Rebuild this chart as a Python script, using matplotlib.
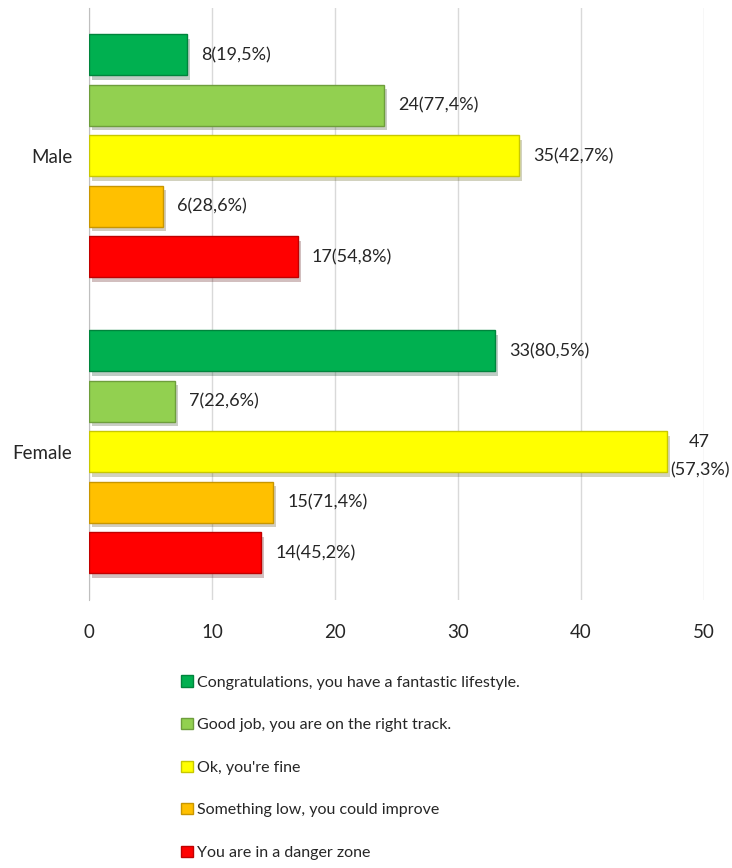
import matplotlib
matplotlib.use("Agg")
import matplotlib.pyplot as plt
import matplotlib.patheffects as pe

categories = ["Male", "Female"]
levels = [
    "Congratulations, you have a fantastic lifestyle.",
    "Good job, you are on the right track.",
    "Ok, you're fine",
    "Something low, you could improve",
    "You are in a danger zone",
]
male_counts = [8, 24, 35, 6, 17]
female_counts = [33, 7, 47, 15, 14]
male_pct = ["19,5", "77,4", "42,7", "28,6", "54,8"]
female_pct = ["80,5", "22,6", "57,3", "71,4", "45,2"]
xticks = [0, 10, 20, 30, 40, 50]

colours = ["#00B050", "#92D050", "#FFFF00", "#FFC000", "#FF0000"]
edges = ["#00843C", "#6E9E3C", "#C8C800", "#C89600", "#C00000"]

plt.rcParams["font.family"] = ["Lato", "DejaVu Sans"]

fig = plt.figure(figsize=(7.32, 8.68), dpi=100)
ax = fig.add_axes([0.1216, 0.3088, 0.8401, 0.682])

counts = [male_counts, female_counts]
pcts = [male_pct, female_pct]
step = 0.1706
height = 0.1385
shadow = [pe.SimplePatchShadow(offset=(2, -3), alpha=0.25), pe.Normal()]

for c in range(len(categories)):
    for i in range(len(levels)):
        y = c + (i - 2) * step
        val = counts[c][i]
        ax.barh(y, val, height=height, color=colours[i], edgecolor=edges[i],
                linewidth=1.0, path_effects=shadow, zorder=3)
        if val >= 45:
            # label wrapped onto two lines, as it would overflow the plot
            txt = f"{val}\n({pcts[c][i]}%)"
            ax.annotate(txt, xy=(val, y), xytext=(2, -3), textcoords="offset points",
                        ha="left", va="center", multialignment="center", linespacing=1.9,
                        fontsize=13, color="#262626", zorder=4, annotation_clip=False)
        else:
            txt = f"{val}({pcts[c][i]}%)"
            ax.annotate(txt, xy=(val, y), xytext=(10, 0), textcoords="offset points",
                        ha="left", va="center", fontsize=13, color="#262626", zorder=4)

ax.set_ylim(1.5, -0.5)
ax.set_xlim(0, 50)
ax.set_yticks(range(len(categories)))
ax.set_yticklabels(categories)
ax.set_xticks(xticks)
ax.tick_params(axis="x", length=0, pad=17, labelsize=13.5, labelcolor="#262626")
ax.tick_params(axis="y", length=0, pad=12, labelsize=13.5, labelcolor="#262626")
ax.grid(True, axis="x", color="#D9D9D9", linewidth=1.0, zorder=0)
for side in ("top", "right", "bottom"):
    ax.spines[side].set_visible(False)
ax.spines["left"].set_color("#BFBFBF")

handles = [plt.Rectangle((0, 0), 1, 1, facecolor=colours[i], edgecolor=edges[i])
           for i in range(len(levels))]
fig.legend(handles, levels, loc="upper left", bbox_to_anchor=(167 / 732, 1 - 661 / 868),
           frameon=False, fontsize=11.5, labelspacing=1.78, handlelength=0.7,
           handleheight=0.7, handletextpad=0.25, labelcolor="#262626")

fig.savefig("out.png", dpi=100)
